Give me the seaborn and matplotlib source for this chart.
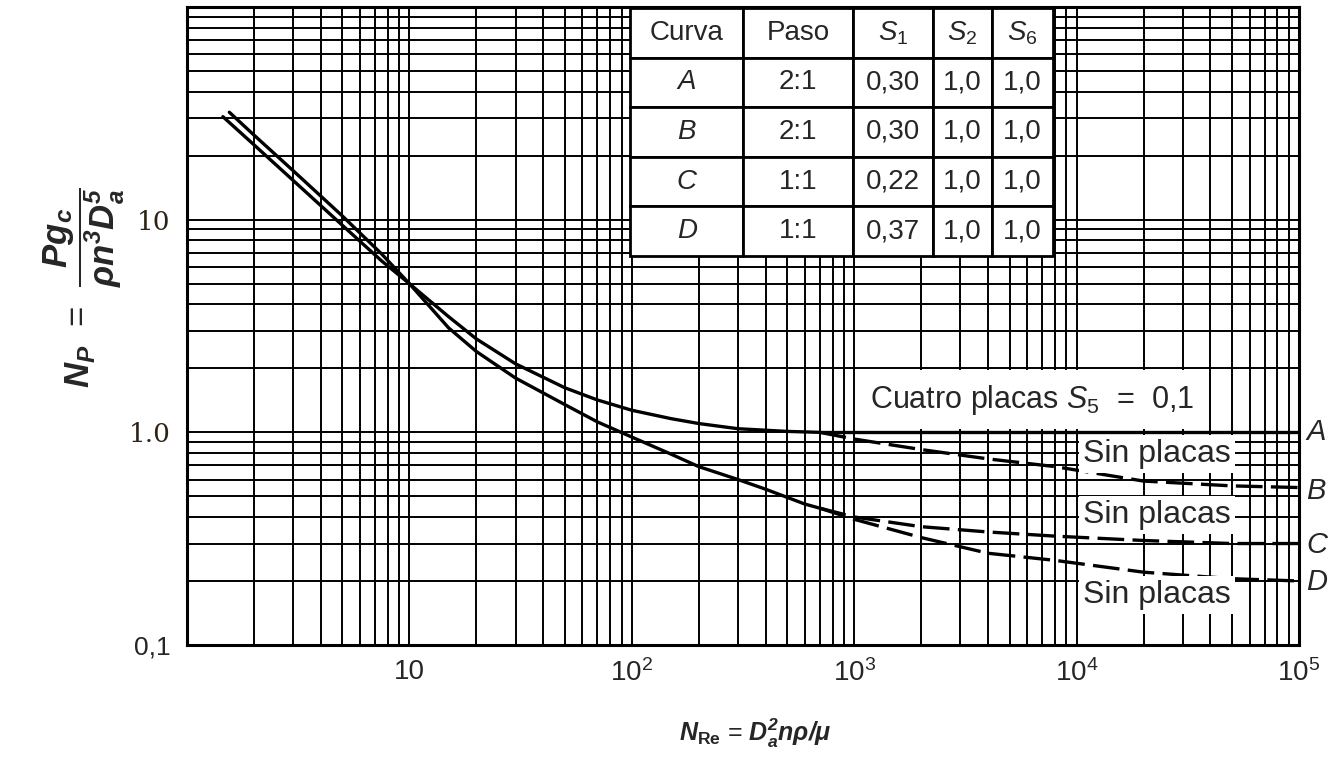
import numpy as np
import matplotlib.pyplot as plt
import matplotlib.ticker as mticker
import seaborn as sns

# --- data ---
# solid part shared by curves A and B (pitch 2:1)
re_ab = [1.45, 2, 3, 5, 7.5, 10, 15, 20, 30, 50, 70, 100, 150, 200, 300, 500, 700]
np_ab = [30.5, 22.5, 15.3, 9.4, 6.4, 5.0, 3.5, 2.75, 2.1, 1.62, 1.42, 1.27, 1.16, 1.1, 1.04, 1.01, 1.0]
# solid part shared by curves C and D (pitch 1:1)
re_cd = [1.55, 2, 3, 5, 7.5, 10, 15, 20, 30, 50, 70, 100, 150, 200, 300, 400, 600, 700]
np_cd = [32, 25, 17, 10.4, 6.9, 5.0, 3.1, 2.4, 1.8, 1.35, 1.12, 0.95, 0.79, 0.69, 0.60, 0.54, 0.46, 0.44]
# high-Re branches
re_a = [700, 1e5]
np_a = [1.0, 1.0]
re_branch = [700, 1000, 2000, 4000, 8000, 2e4, 5e4, 1e5]
np_b = [1.0, 0.93, 0.83, 0.75, 0.69, 0.59, 0.56, 0.55]
np_c = [0.44, 0.40, 0.36, 0.34, 0.325, 0.31, 0.30, 0.30]
np_d = [0.44, 0.39, 0.32, 0.27, 0.25, 0.22, 0.205, 0.20]

curve_labels = ["A", "B", "C", "D"]
curve_label_y = [1.0, 0.53, 0.295, 0.197]

table_header = ["Curva", "Paso", "$S_1$", "$S_2$", "$S_6$"]
table_rows = [
    ["A", "2:1", "0,30", "1,0", "1,0"],
    ["B", "2:1", "0,30", "1,0", "1,0"],
    ["C", "1:1", "0,22", "1,0", "1,0"],
    ["D", "1:1", "0,37", "1,0", "1,0"],
]

x_ticks = [10, 1e2, 1e3, 1e4, 1e5]
x_ticklabels = ["10", "$10^2$", "$10^3$", "$10^4$", "$10^5$"]
y_ticks = [0.1, 1.0, 10]
y_ticklabels = ["0,1", "1.0", "10"]

sns.set_theme(style="white")
plt.rcParams["font.family"] = ["Liberation Sans", "DejaVu Sans"]
plt.rcParams["mathtext.fontset"] = "custom"
plt.rcParams["mathtext.rm"] = "Liberation Sans"
plt.rcParams["mathtext.it"] = "Liberation Sans:italic"
plt.rcParams["mathtext.bf"] = "Liberation Sans:bold"
plt.rcParams["mathtext.bfit"] = "Liberation Sans:italic:bold"

W, H = 1338, 763
fig = plt.figure(figsize=(W / 100, H / 100), dpi=100)
ax = fig.add_axes([187 / W, 1 - 645 / H, (1299 - 187) / W, (645 - 7) / H])

lw = 2.4
dash = (0, (8, 2.5))
sns.lineplot(x=re_ab, y=np_ab, ax=ax, color="black", lw=lw, estimator=None, sort=False)
sns.lineplot(x=re_cd, y=np_cd, ax=ax, color="black", lw=lw, estimator=None, sort=False)
sns.lineplot(x=re_a, y=np_a, ax=ax, color="black", lw=lw, estimator=None, sort=False)
for vals in (np_b, np_c, np_d):
    sns.lineplot(x=re_branch, y=vals, ax=ax, color="black", lw=lw,
                 linestyle=dash, estimator=None, sort=False)

ax.set_xscale("log")
ax.set_yscale("log")
ax.set_xlim(1, 1e5)
ax.set_ylim(0.1, 100)

ax.xaxis.set_minor_locator(mticker.LogLocator(base=10, subs=np.arange(2, 10)))
ax.yaxis.set_minor_locator(mticker.LogLocator(base=10, subs=np.arange(2, 10)))
ax.xaxis.set_minor_formatter(mticker.NullFormatter())
ax.yaxis.set_minor_formatter(mticker.NullFormatter())
ax.grid(which="both", color="black", lw=1.4)
ax.set_axisbelow(True)

ax.set_xticks(x_ticks)
ax.set_xticklabels(x_ticklabels, fontsize=20)
ax.set_yticks(y_ticks)
ax.set_yticklabels(y_ticklabels)
for lab in ax.get_yticklabels():
    if lab.get_text() == "0,1":
        lab.set_fontsize(19)
    else:
        lab.set_family("DejaVu Serif")
        lab.set_fontsize(19)
        lab.set_color("#2e2216")
ax.tick_params(which="both", length=0)
ax.tick_params(axis="x", pad=10)
ax.tick_params(axis="y", pad=12)
ax.set_xlabel("")
ax.set_ylabel("")
for s in ax.spines.values():
    s.set_color("black")
    s.set_linewidth(2.2)

# parameter table
x0 = (630 - 187) / (1299 - 187)
x1 = (1053 - 187) / (1299 - 187)
y1 = 1 - (8 - 7) / (645 - 7)
y0 = 1 - (256 - 7) / (645 - 7)
tab = ax.table(cellText=table_rows, colLabels=table_header, cellLoc="center",
               colWidths=[114, 110, 80, 60, 61], bbox=[x0, y0, x1 - x0, y1 - y0])
tab.auto_set_font_size(False)
tab.set_zorder(6)
for (r, c), cell in tab.get_celld().items():
    cell.set_edgecolor("black")
    cell.set_linewidth(2)
    cell.set_facecolor("white")
    cell.get_text().set_fontsize(20)
    if r > 0 and c == 0:
        cell.get_text().set_fontstyle("italic")

ax.text(6300, 1.42, "Cuatro placas $S_5$  =  0,1", fontsize=22, ha="center", va="center",
        bbox=dict(facecolor="white", edgecolor="none", pad=9), zorder=4)
box = dict(facecolor="white", edgecolor="none", pad=3)
for yv in (0.79, 0.41, 0.172):
    ax.text(23000, yv, "Sin placas", fontsize=23, ha="center", va="center", bbox=box, zorder=4)

for lab, yv in zip(curve_labels, curve_label_y):
    ax.annotate(lab, xy=(1, yv), xycoords=("axes fraction", "data"), xytext=(5, 0),
                textcoords="offset points", ha="left", va="center", fontsize=21,
                fontstyle="italic", annotation_clip=False)

fig.text(84 / W, 1 - 288 / H,
         r"$\mathbfit{N_P}$  =  $\dfrac{\mathbfit{Pg_c}}{\mathbfit{\rho n^3 D_a^5}}$",
         rotation=90, ha="center", va="center", fontsize=25)
fig.text(755 / W, 1 - 733 / H, r"$\mathbfit{N}_{\mathbf{Re}}$ = $\mathbfit{D_a^2 n\rho/\mu}$",
         ha="center", va="center", fontsize=18)

fig.savefig("out.png", dpi=100)
